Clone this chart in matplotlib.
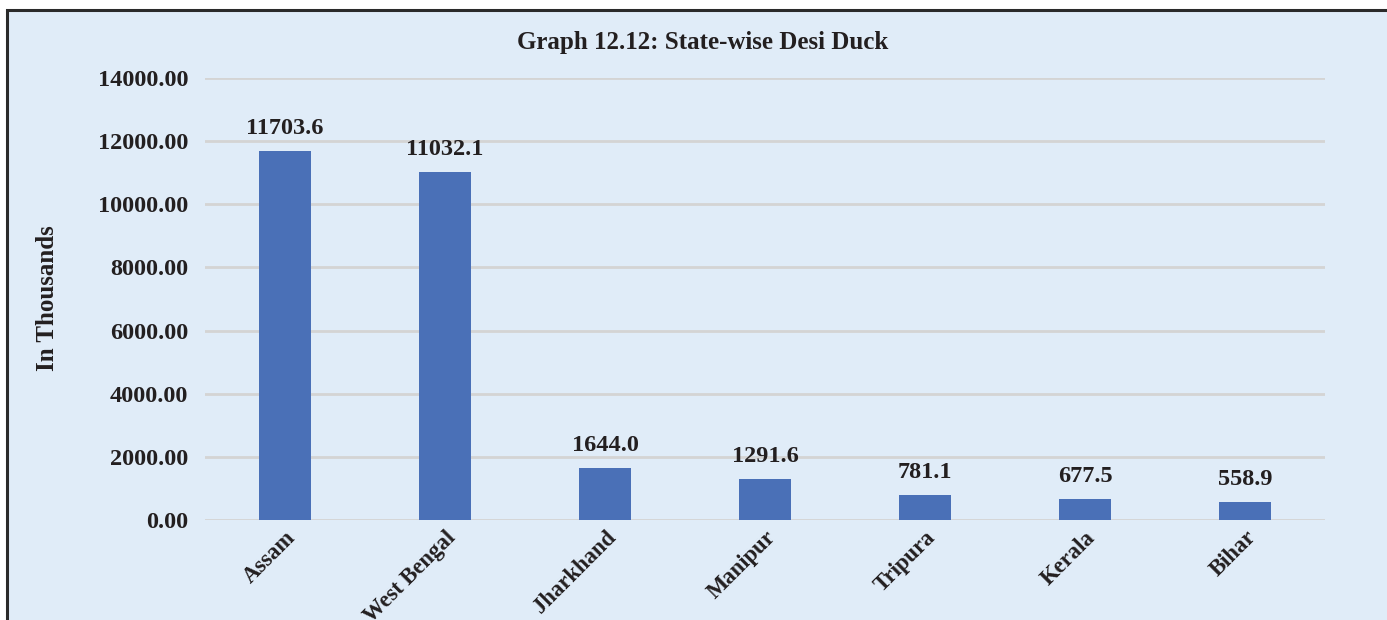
import matplotlib.pyplot as plt
from matplotlib.patches import Rectangle

states = ['Assam', 'West Bengal', 'Jharkhand', 'Manipur', 'Tripura', 'Kerala', 'Bihar']
ducks = [11703.6, 11032.1, 1644.0, 1291.6, 781.1, 677.5, 558.9]
yticks = [0, 2000, 4000, 6000, 8000, 10000, 12000, 14000]

bg = '#E0ECF8'
bar_color = '#4A70B7'
text_color = '#231F20'

plt.rcParams['font.family'] = ['Liberation Serif', 'DejaVu Serif']
plt.rcParams['font.weight'] = 'bold'

fig = plt.figure(figsize=(13.87, 6.2), dpi=100, facecolor='white')
W, H = 1387, 620

# outer frame of the chart box
fig.patches.append(Rectangle((7 / W, -0.1), 1.1, (H - 10) / H + 0.1, transform=fig.transFigure,
                             facecolor=bg, edgecolor='#2A2A2A', linewidth=2.2, zorder=-5))

ax = fig.add_axes([205 / W, (H - 520) / H, 1120 / W, 442 / H])
ax.set_facecolor('none')

x = range(len(states))
ax.bar(x, ducks, width=0.32, color=bar_color, zorder=3)
for i, v in enumerate(ducks):
    ax.text(i, v + 380, f'{v:.1f}', ha='center', va='bottom', fontsize=17.5,
            fontweight='bold', color=text_color)

ax.set_xlim(-0.5, len(states) - 0.5)
ax.set_ylim(0, 14000)
ax.set_yticks(yticks)
ax.set_yticklabels([f'{t:.2f}' for t in yticks], fontsize=17.5, fontweight='bold', color=text_color)
ax.set_xticks(list(x))
ax.set_xticklabels(states, rotation=45, ha='right', rotation_mode='anchor',
                   fontsize=16.3, fontweight='bold', color=text_color)
ax.tick_params(axis='both', length=0, pad=12)
ax.tick_params(axis='x', pad=5)
ax.grid(axis='y', color='#D4D4D4', linewidth=2, zorder=0)
ax.set_axisbelow(True)
for s in ax.spines.values():
    s.set_visible(False)

fig.text(48 / W, 1 - 298 / H, 'In Thousands', rotation=90, ha='center', va='center',
         fontsize=18, fontweight='bold', color=text_color)
fig.text(703 / W, 1 - 43 / H, 'Graph 12.12: State-wise Desi Duck', ha='center', va='center',
         fontsize=18, fontweight='bold', color=text_color)

fig.savefig('out.png', dpi=100, facecolor='white')
